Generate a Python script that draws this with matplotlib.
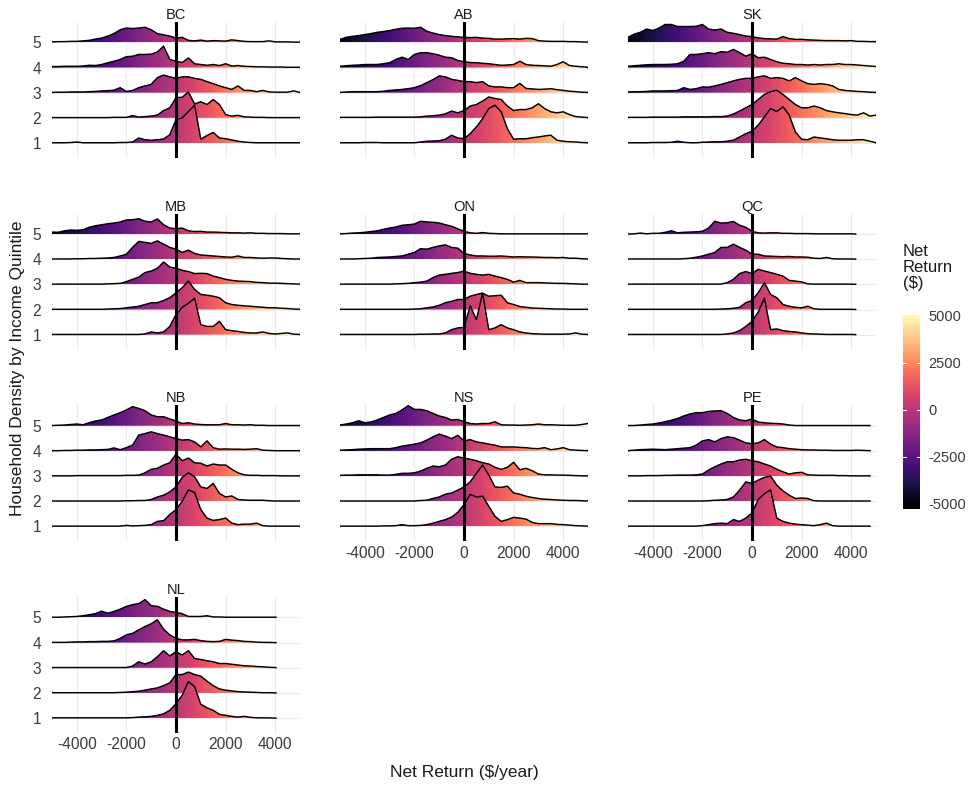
import numpy as np
import matplotlib
matplotlib.use("Agg")
import matplotlib.pyplot as plt
from matplotlib.colors import Normalize
from matplotlib.patches import Polygon

plt.rcParams['font.family'] = ['Liberation Sans', 'DejaVu Sans']

provinces = ["BC", "AB", "SK", "MB", "ON", "QC", "NB", "NS", "PE", "NL"]
quintiles = ["1", "2", "3", "4", "5"]
# net return ($/year) at which the ridge heights were read
net_return = np.arange(-5000, 5001, 250)
# right end of each province's data range
x_end = [5000, 5000, 5000, 5000, 5000, 4180, 5000, 5000, 4760, 4030]
x_ticks = [-4000, -2000, 0, 2000, 4000]

# ridge heights (in units of ridge spacing), rows = quintile 1..5
bc = [
    [0.01,0.01,0.01,0.02,0.04,0.01,0.01,0.01,0.01,0.01, 0.01,0.02,0.02,0.04,0.2,0.13,0.11,0.13,0.16,0.33,
     0.93,1.0,1.25,1.5,0.15,0.3,0.42,0.2,0.17,0.12, 0.07,0.04,0.02,0.01,0.01,0.01,0.01,0.01,0.01,0.01,0.01],
    [0.01,0.01,0.01,0.01,0.01,0.01,0.01,0.01,0.01,0.01, 0.02,0.02,0.02,0.09,0.03,0.05,0.07,0.11,0.29,0.4,
     0.8,0.82,1.03,0.55,0.64,0.53,0.73,0.53,0.13,0.07, 0.1,0.04,0.03,0.02,0.02,0.01,0.01,0.01,0.01,0.01,0.01],
    [0.01,0.02,0.02,0.03,0.03,0.03,0.04,0.05,0.07,0.08, 0.1,0.2,0.05,0.09,0.2,0.27,0.33,0.6,0.7,0.63,
     0.57,0.63,0.63,0.57,0.53,0.44,0.36,0.27,0.2,0.13, 0.27,0.09,0.09,0.04,0.09,0.03,0.02,0.02,0.02,0.07,0.01],
    [0.04,0.04,0.05,0.05,0.05,0.06,0.09,0.08,0.12,0.19, 0.25,0.32,0.43,0.45,0.52,0.52,0.53,0.62,0.85,0.32,
     0.25,0.2,0.38,0.15,0.12,0.09,0.12,0.08,0.15,0.06, 0.08,0.05,0.04,0.03,0.03,0.02,0.02,0.02,0.01,0.01,0.01],
    [0.02,0.03,0.03,0.04,0.04,0.06,0.08,0.13,0.17,0.25, 0.35,0.5,0.57,0.55,0.57,0.6,0.5,0.35,0.3,0.25,
     0.17,0.2,0.08,0.06,0.09,0.05,0.07,0.06,0.05,0.1, 0.07,0.04,0.03,0.03,0.03,0.06,0.02,0.02,0.02,0.01,0.01],
]
ab = [
    [0.01,0.01,0.01,0.01,0.02,0.02,0.02,0.01,0.01,0.01, 0.01,0.01,0.01,0.04,0.07,0.08,0.09,0.15,0.31,0.2,
     0.17,0.37,0.64,0.97,1.37,1.5,1.24,0.57,0.15,0.17, 0.17,0.21,0.24,0.28,0.31,0.11,0.07,0.05,0.04,0.02,0.01],
    [0.02,0.02,0.02,0.02,0.02,0.02,0.03,0.03,0.03,0.03, 0.03,0.03,0.03,0.04,0.07,0.08,0.11,0.16,0.27,0.2,
     0.29,0.47,0.53,0.67,0.83,0.77,0.73,0.47,0.29,0.33, 0.33,0.4,0.56,0.37,0.24,0.2,0.24,0.13,0.05,0.03,0.01],
    [0.01,0.03,0.04,0.04,0.04,0.04,0.04,0.06,0.09,0.11, 0.13,0.16,0.2,0.28,0.4,0.52,0.67,0.63,0.53,0.49,
     0.44,0.44,0.4,0.44,0.27,0.23,0.23,0.2,0.2,0.37, 0.17,0.15,0.13,0.14,0.16,0.12,0.09,0.06,0.04,0.02,0.01],
    [0.05,0.07,0.09,0.1,0.12,0.12,0.12,0.15,0.19,0.32, 0.41,0.32,0.52,0.59,0.59,0.55,0.49,0.41,0.39,0.28,
     0.23,0.2,0.19,0.17,0.15,0.12,0.09,0.1,0.12,0.25, 0.12,0.09,0.08,0.07,0.05,0.12,0.23,0.08,0.05,0.03,0.01],
    [0.12,0.2,0.24,0.27,0.31,0.35,0.4,0.43,0.47,0.52, 0.56,0.57,0.56,0.6,0.44,0.37,0.31,0.27,0.24,0.22,
     0.2,0.19,0.2,0.17,0.16,0.13,0.13,0.14,0.15,0.13, 0.16,0.15,0.07,0.05,0.04,0.04,0.04,0.03,0.03,0.02,0.01],
]
sk = [
    [0.01,0.01,0.01,0.01,0.02,0.02,0.02,0.03,0.07,0.03, 0.01,0.01,0.03,0.04,0.05,0.05,0.07,0.11,0.24,0.37,
     0.47,0.71,1.04,1.37,1.25,1.44,1.11,0.44,0.15,0.13, 0.24,0.2,0.17,0.13,0.11,0.11,0.11,0.13,0.13,0.07,0.01],
    [0.02,0.02,0.02,0.02,0.03,0.03,0.03,0.03,0.03,0.04, 0.04,0.04,0.04,0.04,0.05,0.05,0.07,0.15,0.27,0.4,
     0.53,0.73,0.93,1.04,1.1,0.93,0.73,0.53,0.4,0.4, 0.47,0.4,0.29,0.24,0.2,0.17,0.13,0.11,0.2,0.07,0.11],
    [0.03,0.04,0.04,0.05,0.07,0.07,0.07,0.08,0.09,0.2, 0.13,0.16,0.23,0.22,0.27,0.33,0.4,0.47,0.53,0.57,
     0.57,0.63,0.67,0.57,0.6,0.57,0.47,0.6,0.47,0.36, 0.33,0.36,0.33,0.27,0.13,0.09,0.07,0.05,0.04,0.02,0.01],
    [0.05,0.07,0.09,0.11,0.12,0.12,0.12,0.13,0.15,0.25, 0.52,0.52,0.55,0.59,0.55,0.63,0.61,0.72,0.59,0.45,
     0.55,0.39,0.41,0.32,0.23,0.17,0.15,0.12,0.12,0.1, 0.12,0.1,0.12,0.12,0.15,0.12,0.12,0.1,0.08,0.06,0.04],
    [0.2,0.33,0.4,0.53,0.47,0.57,0.71,0.71,0.63,0.63, 0.63,0.64,0.71,0.53,0.49,0.53,0.4,0.36,0.31,0.25,
     0.23,0.18,0.15,0.14,0.13,0.23,0.15,0.12,0.12,0.1, 0.09,0.08,0.07,0.07,0.07,0.06,0.07,0.04,0.04,0.03,0.03],
]
mb = [
    [0.01,0.01,0.01,0.01,0.01,0.01,0.01,0.01,0.01,0.01, 0.01,0.01,0.01,0.01,0.01,0.03,0.11,0.07,0.11,0.33,
     0.8,1.09,1.25,1.45,0.4,0.33,0.33,0.53,0.2,0.16, 0.13,0.09,0.07,0.07,0.11,0.05,0.03,0.05,0.07,0.02,0.01],
    [0.01,0.01,0.01,0.01,0.01,0.01,0.01,0.01,0.01,0.02, 0.03,0.04,0.07,0.1,0.13,0.2,0.27,0.27,0.36,0.47,
     0.67,0.87,1.13,0.8,0.6,0.57,0.53,0.47,0.27,0.2, 0.17,0.15,0.13,0.11,0.09,0.07,0.07,0.05,0.04,0.02,0.01],
    [0.01,0.01,0.01,0.01,0.01,0.01,0.01,0.01,0.01,0.02, 0.03,0.04,0.11,0.2,0.29,0.47,0.53,0.64,0.89,0.69,
     0.64,0.56,0.51,0.43,0.44,0.43,0.33,0.27,0.2,0.16, 0.13,0.12,0.11,0.08,0.07,0.05,0.05,0.04,0.03,0.02,0.01],
    [0.01,0.01,0.01,0.01,0.02,0.02,0.03,0.03,0.04,0.05, 0.07,0.13,0.2,0.47,0.71,0.67,0.63,0.73,0.6,0.47,
     0.4,0.27,0.36,0.23,0.17,0.15,0.13,0.11,0.09,0.08, 0.13,0.07,0.07,0.05,0.04,0.05,0.05,0.03,0.02,0.01,0.01],
    [0.08,0.07,0.13,0.16,0.15,0.17,0.27,0.33,0.37,0.41, 0.44,0.48,0.56,0.57,0.61,0.51,0.48,0.6,0.37,0.24,
     0.21,0.24,0.13,0.1,0.11,0.08,0.08,0.07,0.06,0.05, 0.05,0.04,0.05,0.03,0.03,0.02,0.02,0.02,0.01,0.01,0.01],
]
on = [
    [0.01,0.01,0.01,0.01,0.01,0.01,0.01,0.01,0.01,0.01, 0.01,0.01,0.01,0.02,0.02,0.03,0.03,0.07,0.2,0.27,
     0.29,1.15,0.6,1.65,0.2,0.27,0.4,0.27,0.2,0.11, 0.07,0.04,0.03,0.02,0.02,0.02,0.02,0.03,0.07,0.02,0.01],
    [0.01,0.01,0.01,0.01,0.01,0.01,0.01,0.01,0.01,0.01, 0.01,0.01,0.02,0.03,0.07,0.1,0.17,0.27,0.33,0.4,
     0.4,0.53,0.6,0.65,0.53,0.55,0.57,0.27,0.2,0.12, 0.09,0.06,0.05,0.04,0.03,0.02,0.02,0.01,0.01,0.01,0.01],
    [0.01,0.01,0.01,0.01,0.01,0.01,0.01,0.01,0.01,0.02, 0.03,0.04,0.07,0.09,0.13,0.27,0.37,0.4,0.44,0.47,
     0.53,0.44,0.4,0.37,0.4,0.33,0.27,0.2,0.09,0.16, 0.07,0.07,0.07,0.06,0.05,0.04,0.04,0.03,0.02,0.01,0.01],
    [0.01,0.01,0.01,0.02,0.03,0.04,0.07,0.08,0.09,0.11, 0.13,0.2,0.27,0.42,0.4,0.47,0.53,0.57,0.47,0.44,
     0.23,0.17,0.13,0.13,0.12,0.12,0.13,0.11,0.09,0.1, 0.09,0.09,0.08,0.07,0.07,0.06,0.07,0.04,0.04,0.02,0.01],
    [0.01,0.02,0.04,0.05,0.07,0.1,0.13,0.19,0.24,0.28, 0.35,0.37,0.4,0.51,0.48,0.47,0.44,0.37,0.31,0.21,
     0.11,0.05,0.03,0.06,0.03,0.02,0.01,0.01,0.01,0.01, 0.01,0.01,0.01,0.01,0.01,0.01,0.01,0.01,0.01,0.01,0.01],
]
qc = [
    [0.01,0.01,0.01,0.01,0.01,0.01,0.01,0.01,0.01,0.01, 0.01,0.01,0.01,0.01,0.01,0.01,0.03,0.07,0.16,0.33,
     0.53,0.9,1.45,0.2,0.23,0.16,0.13,0.11,0.07,0.04, 0.03,0.02,0.01,0.01,0.01,0.01,0.01,0,0,0,0],
    [0.01,0.01,0.01,0.01,0.01,0.01,0.01,0.01,0.01,0.01, 0.01,0.01,0.01,0.01,0.01,0.02,0.03,0.05,0.09,0.27,
     0.36,0.67,1.07,0.6,0.47,0.2,0.13,0.09,0.07,0.13, 0.03,0.01,0.01,0.01,0.01,0.01,0.01,0,0,0,0],
    [0.01,0.01,0.01,0.01,0.01,0.01,0.01,0.01,0.01,0.01, 0.01,0.01,0.01,0.01,0.01,0.01,0.07,0.2,0.43,0.51,
     0.43,0.6,0.53,0.47,0.4,0.33,0.16,0.13,0.1,0.02, 0.01,0.01,0.01,0.01,0.01,0.01,0.01,0,0,0,0],
    [0.01,0.01,0.01,0.01,0.01,0.01,0.01,0.01,0.01,0.02, 0.04,0.08,0.13,0.2,0.27,0.47,0.47,0.6,0.47,0.36,
     0.2,0.2,0.13,0.12,0.11,0.1,0.11,0.09,0.09,0.08, 0.04,0.03,0.07,0.02,0.01,0.01,0.01,0,0,0,0],
    [0.0,0.01,0.04,0.01,0.03,0.03,0.07,0.13,0.05,0.07, 0.08,0.09,0.11,0.24,0.51,0.44,0.45,0.5,0.35,0.27,
     0.11,0.05,0.04,0.05,0.05,0.03,0.03,0.02,0.02,0.02, 0.01,0.01,0.01,0.01,0.01,0.01,0.01,0,0,0,0],
]
nb = [
    [0.01,0.01,0.01,0.01,0.01,0.01,0.01,0.01,0.01,0.01, 0.01,0.01,0.04,0.02,0.03,0.04,0.07,0.2,0.23,0.47,
     0.67,1.0,1.45,1.35,0.67,0.33,0.24,0.27,0.33,0.13, 0.07,0.09,0.09,0.13,0.03,0.01,0.01,0.01,0.01,0.01,0.01],
    [0.01,0.01,0.01,0.01,0.01,0.01,0.01,0.01,0.01,0.01, 0.01,0.01,0.02,0.02,0.03,0.03,0.07,0.17,0.24,0.37,
     0.57,0.95,1.13,0.97,0.57,0.51,0.71,0.31,0.17,0.21, 0.07,0.05,0.04,0.04,0.04,0.02,0.01,0.01,0.01,0.01,0.01],
    [0.01,0.01,0.01,0.01,0.02,0.02,0.02,0.02,0.02,0.02, 0.02,0.02,0.03,0.03,0.04,0.13,0.27,0.31,0.44,0.53,
     0.87,0.61,0.72,0.53,0.51,0.4,0.48,0.44,0.44,0.27, 0.13,0.05,0.03,0.03,0.02,0.02,0.02,0.01,0.01,0.01,0.01],
    [0.01,0.01,0.02,0.02,0.03,0.03,0.04,0.04,0.05,0.06, 0.12,0.05,0.13,0.23,0.63,0.69,0.76,0.69,0.63,0.56,
     0.49,0.43,0.45,0.36,0.16,0.4,0.13,0.07,0.08,0.07, 0.07,0.06,0.07,0.09,0.03,0.02,0.01,0.01,0.01,0.01,0.01],
    [0.01,0.02,0.03,0.05,0.07,0.04,0.12,0.19,0.23,0.33, 0.43,0.52,0.63,0.76,0.69,0.6,0.43,0.36,0.36,0.27,
     0.19,0.09,0.12,0.07,0.05,0.04,0.04,0.04,0.09,0.04, 0.04,0.03,0.04,0.02,0.02,0.01,0.01,0.01,0.01,0.01,0.01],
]
ns = [
    [0.01,0.01,0.01,0.01,0.01,0.01,0.01,0.02,0.02,0.03, 0.07,0.03,0.03,0.04,0.07,0.13,0.2,0.27,0.37,0.56,
     0.87,1.27,1.17,1.2,0.8,0.4,0.2,0.27,0.36,0.33, 0.29,0.16,0.11,0.11,0.11,0.08,0.07,0.05,0.03,0.02,0.01],
    [0.01,0.01,0.01,0.01,0.01,0.01,0.01,0.01,0.01,0.01, 0.01,0.01,0.01,0.03,0.04,0.11,0.17,0.28,0.33,0.44,
     0.57,0.77,1.11,1.44,1.04,0.57,0.55,0.6,0.33,0.28, 0.2,0.15,0.11,0.08,0.07,0.05,0.04,0.03,0.03,0.02,0.01],
    [0.03,0.04,0.04,0.05,0.05,0.05,0.05,0.04,0.04,0.07, 0.11,0.11,0.13,0.2,0.31,0.4,0.37,0.44,0.67,0.77,
     0.71,0.67,0.61,0.53,0.48,0.35,0.27,0.35,0.55,0.25, 0.31,0.21,0.08,0.05,0.05,0.04,0.04,0.03,0.02,0.01,0.01],
    [0.03,0.04,0.05,0.07,0.08,0.09,0.09,0.09,0.09,0.13, 0.19,0.23,0.27,0.32,0.43,0.56,0.67,0.59,0.49,0.62,
     0.4,0.45,0.36,0.32,0.27,0.23,0.16,0.16,0.16,0.14, 0.13,0.1,0.09,0.13,0.05,0.08,0.13,0.05,0.03,0.02,0.01],
    [0.03,0.07,0.12,0.2,0.12,0.15,0.23,0.33,0.43,0.49, 0.63,0.8,0.65,0.65,0.6,0.49,0.39,0.33,0.23,0.25,
     0.16,0.09,0.07,0.09,0.09,0.16,0.04,0.03,0.03,0.02, 0.03,0.04,0.07,0.04,0.04,0.03,0.02,0.02,0.02,0.05,0.09],
]
pe = [
    [0.01,0.01,0.01,0.01,0.01,0.01,0.01,0.01,0.01,0.01, 0.01,0.01,0.03,0.07,0.11,0.13,0.11,0.27,0.2,0.33,
     0.53,1.07,1.3,1.45,0.33,0.2,0.13,0.09,0.07,0.05, 0.03,0.07,0.13,0.03,0.01,0.01,0.01,0.01,0.01,0.01,0],
    [0.01,0.01,0.01,0.01,0.01,0.01,0.01,0.01,0.01,0.01, 0.01,0.01,0.01,0.02,0.04,0.05,0.07,0.17,0.44,0.77,
     0.71,0.84,0.95,1.0,0.64,0.41,0.24,0.11,0.13,0.11, 0.02,0.01,0.01,0.01,0.01,0.01,0.01,0.01,0.01,0.01,0],
    [0.01,0.01,0.01,0.02,0.02,0.02,0.03,0.03,0.04,0.04, 0.04,0.05,0.08,0.24,0.37,0.48,0.57,0.57,0.64,0.67,
     0.61,0.57,0.48,0.4,0.27,0.17,0.08,0.13,0.15,0.05, 0.04,0.03,0.03,0.03,0.02,0.02,0.01,0.01,0.01,0.01,0],
    [0.01,0.03,0.05,0.06,0.07,0.06,0.05,0.07,0.09,0.11, 0.13,0.23,0.4,0.45,0.36,0.49,0.56,0.53,0.43,0.32,
     0.29,0.32,0.45,0.27,0.16,0.13,0.09,0.07,0.05,0.04, 0.04,0.03,0.03,0.02,0.02,0.02,0.02,0.03,0.02,0.01,0],
    [0.01,0.01,0.03,0.05,0.07,0.11,0.16,0.22,0.29,0.39, 0.47,0.52,0.52,0.57,0.59,0.6,0.49,0.33,0.23,0.2,
     0.27,0.15,0.12,0.1,0.09,0.07,0.03,0.01,0.01,0.01, 0.01,0.01,0.01,0.01,0.01,0.01,0.01,0.01,0.01,0.01,0],
]
nl = [
    [0.01,0.01,0.01,0.01,0.01,0.01,0.01,0.01,0.01,0.01, 0.01,0.01,0.01,0.02,0.04,0.05,0.07,0.11,0.17,0.31,
     0.57,0.91,1.45,1.25,0.55,0.41,0.31,0.15,0.11,0.07, 0.04,0.07,0.03,0.01,0.01,0.01,0,0,0,0,0],
    [0.01,0.01,0.01,0.01,0.01,0.01,0.01,0.01,0.01,0.01, 0.01,0.02,0.03,0.05,0.07,0.11,0.16,0.2,0.29,0.4,
     0.73,0.73,0.83,0.73,0.67,0.47,0.29,0.16,0.11,0.08, 0.05,0.04,0.03,0.02,0.01,0.01,0,0,0,0,0],
    [0.01,0.01,0.01,0.01,0.01,0.01,0.01,0.01,0.01,0.01, 0.01,0.01,0.01,0.07,0.24,0.15,0.24,0.44,0.68,0.47,
     0.64,0.51,0.68,0.37,0.33,0.28,0.24,0.17,0.17,0.14, 0.11,0.08,0.07,0.05,0.04,0.02,0.01,0,0,0,0],
    [0.01,0.01,0.01,0.02,0.03,0.03,0.04,0.04,0.05,0.05, 0.07,0.17,0.31,0.37,0.51,0.64,0.75,0.91,0.53,0.31,
     0.17,0.11,0.11,0.13,0.08,0.05,0.04,0.05,0.13,0.1, 0.08,0.05,0.04,0.02,0.01,0.01,0,0,0,0,0],
    [0.01,0.01,0.02,0.03,0.04,0.07,0.11,0.15,0.25,0.17, 0.24,0.33,0.44,0.51,0.55,0.71,0.47,0.44,0.33,0.24,
     0.2,0.15,0.04,0.04,0.04,0.07,0.02,0.02,0.01,0.01, 0.01,0.01,0.01,0.01,0.01,0.01,0.01,0,0,0,0],
]
densities = [bc, ab, sk, mb, on, qc, nb, ns, pe, nl]

W, H = 968, 787
norm = Normalize(vmin=-5300, vmax=5050)
cmap = plt.get_cmap("magma")
grad = np.linspace(-5000, 5000, 500)[None, :]
txt_col = "#3a3a3a"

fig = plt.figure(figsize=(W / 100, H / 100), dpi=100)

for i, (prov, dens, xe) in enumerate(zip(provinces, densities, x_end)):
    r, c = divmod(i, 3)
    left = 52 + 288 * c
    top = 22 + 191.7 * r
    ax = fig.add_axes([left / W, 1 - (top + 136) / H, 248 / W, 136 / H])

    # draw top quintile first so lower ridges overlap it
    for k in range(4, -1, -1):
        h = np.asarray(dens[k], dtype=float)
        keep = net_return < xe
        xs = np.r_[net_return[keep], xe]
        hs = np.r_[h[keep], np.interp(xe, net_return, h)]
        base = k + 1
        verts = np.column_stack([np.r_[xs, xs[::-1]],
                                 np.r_[base + hs, np.full(len(xs), base)]])
        poly = Polygon(verts, closed=True, facecolor="none", edgecolor="none")
        ax.add_patch(poly)
        z = 2 + (5 - k) * 2
        im = ax.imshow(grad, extent=[-5000, 5000, base, base + hs.max() + 0.05],
                       cmap=cmap, norm=norm, aspect="auto", origin="lower",
                       interpolation="bilinear", zorder=z)
        im.set_clip_path(poly)
        ax.plot(xs, base + hs, color="black", lw=1.05, zorder=z + 1,
                solid_joinstyle="round")

    ax.axvline(0, color="black", lw=2.2, zorder=30)
    ax.set_xlim(-5000, 5000)
    ax.set_ylim(0.404, 5.81)
    ax.set_xticks(x_ticks)
    ax.set_yticks(range(1, 6))
    ax.grid(color="#ebebeb", lw=0.8)
    ax.set_axisbelow(True)
    for s in ax.spines.values():
        s.set_visible(False)
    ax.tick_params(length=0, labelsize=11.2, labelcolor=txt_col, pad=3)
    if c == 0:
        ax.set_yticklabels(quintiles)
        ax.tick_params(axis="y", pad=8)
    else:
        ax.set_yticklabels([])
    if i + 3 >= len(provinces):
        ax.set_xticklabels([str(t) for t in x_ticks])
    else:
        ax.set_xticklabels([])
    ax.set_title(prov, fontsize=10.5, color="#1a1a1a", pad=2)

fig.text(464 / W, 1 - 773 / H, "Net Return ($/year)", ha="center", va="center",
         fontsize=12.5, color="#1a1a1a")
fig.text(18 / W, 1 - 368 / H, "Household Density by Income Quintile", rotation=90,
         ha="center", va="center", fontsize=12.5, color="#1a1a1a")

# colour bar
cax = fig.add_axes([903 / W, 1 - 509 / H, 17 / W, 194 / H])
cax.imshow(np.linspace(-5300, 5050, 300)[:, None], extent=[0, 1, -5300, 5050],
           cmap=cmap, norm=norm, aspect="auto", origin="lower")
cb_ticks = [-5000, -2500, 0, 2500, 5000]
for v in cb_ticks[1:-1]:
    cax.plot([0, 0.2], [v, v], color="white", lw=0.8)
    cax.plot([0.8, 1], [v, v], color="white", lw=0.8)
cax.set_xlim(0, 1)
cax.set_ylim(-5300, 5050)
cax.set_xticks([])
cax.yaxis.tick_right()
cax.set_yticks(cb_ticks)
cax.set_yticklabels([str(t) for t in cb_ticks])
cax.tick_params(length=0, labelsize=10.5, labelcolor=txt_col, pad=6)
for s in cax.spines.values():
    s.set_visible(False)
fig.text(903 / W, 1 - 244 / H, "Net\nReturn\n($)", ha="left", va="top",
         fontsize=12, linespacing=1.1, color="#1a1a1a")

fig.savefig("out.png", dpi=100)
